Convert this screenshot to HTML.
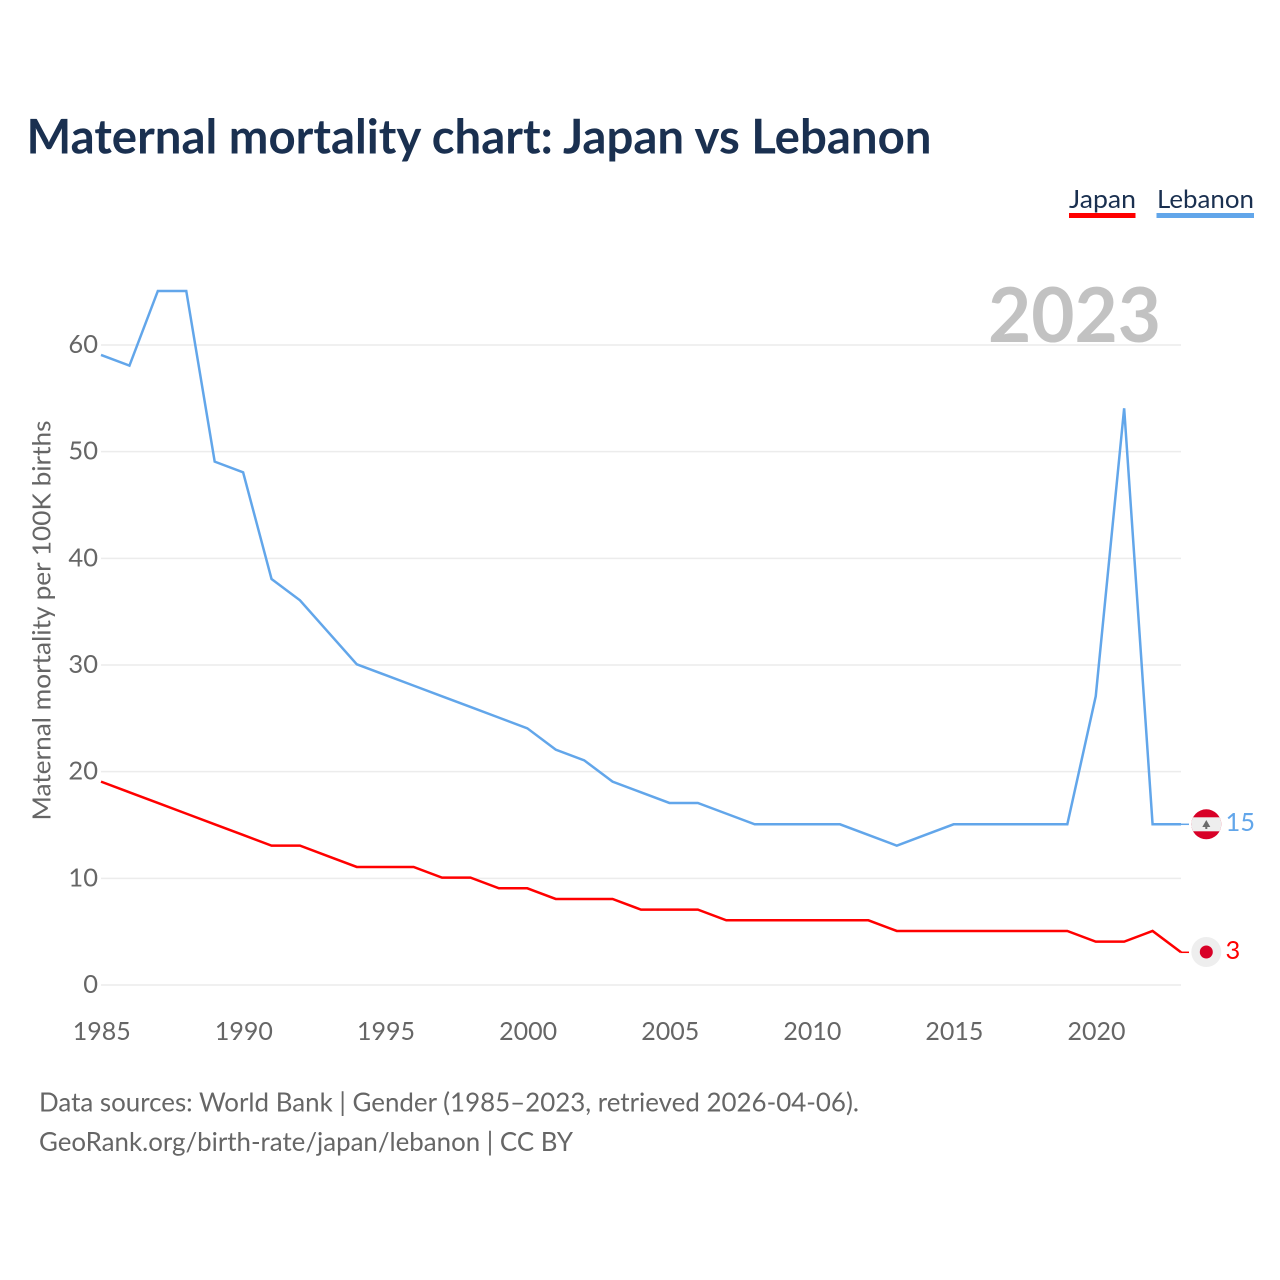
<!DOCTYPE html>
<html lang="en">
<head>
<meta charset="utf-8">
<title>Maternal mortality chart: Japan vs Lebanon</title>
<style>
html,body{margin:0;padding:0;background:#fff;width:1280px;height:1280px;overflow:hidden}
svg{display:block}
text{font-family:"Lato","Carlito","Liberation Sans",sans-serif}
</style>
</head>
<body>
<svg id="chart" xmlns="http://www.w3.org/2000/svg" width="1280" height="1280" viewBox="0 0 1280 1280">
  <rect width="1280" height="1280" fill="#fff"/>
  <text x="26.500" y="153.500" font-size="47.500" font-weight="700" fill="#1a3050" textLength="905" lengthAdjust="spacingAndGlyphs">Maternal mortality chart: Japan vs Lebanon</text>

  <g>
    <text x="1069" y="208" font-size="25.500" fill="#1a3050" textLength="67" lengthAdjust="spacingAndGlyphs">Japan</text>
    <rect x="1069" y="213" width="66.500" height="5" fill="#ff0000"/>
  </g>
  <g>
    <text x="1157" y="208" font-size="25.500" fill="#1a3050" textLength="97" lengthAdjust="spacingAndGlyphs">Lebanon</text>
    <rect x="1156.500" y="213" width="97.500" height="5" fill="#62a6ea"/>
  </g>

  <g id="grid"></g>
  <text x="1161" y="342" text-anchor="end" font-size="76" font-weight="700" fill="#c2c2c2" textLength="173" lengthAdjust="spacingAndGlyphs">2023</text>
  <g id="yticks"></g>
  <g id="xticks"></g>
  <text transform="translate(50.500 620.500) rotate(-90)" text-anchor="middle" font-size="25.500" fill="#666" textLength="400" lengthAdjust="spacingAndGlyphs">Maternal mortality per 100K births</text>
  <g id="series" transform="translate(0 -0.700)"></g>

  <g id="end-markers">
    <defs>
      <clipPath id="lb-clip"><circle cx="1206.300" cy="824.300" r="15"/></clipPath>
    </defs>
    <g clip-path="url(#lb-clip)">
      <rect x="1190" y="808" width="32" height="33" fill="#d80027"/>
      <rect x="1190" y="817.300" width="32" height="14" fill="#eeeeee"/>
      <path d="M1206.300 820l4 7h-3v2h-2v-2h-3z" fill="#6b6b6b"/>
    </g>
    <g>
      <circle cx="1206.300" cy="952" r="15" fill="#eeeeee"/>
      <circle cx="1206.300" cy="952" r="6.500" fill="#d80027"/>
    </g>
  </g>
  <g id="end-labels"></g>

  <text x="39" y="1111.500" font-size="26" fill="#666" textLength="820" lengthAdjust="spacingAndGlyphs">Data sources: World Bank | Gender (1985–2023, retrieved 2026-04-06).</text>
  <text x="39" y="1151" font-size="26" fill="#666" textLength="534" lengthAdjust="spacingAndGlyphs">GeoRank.org/birth-rate/japan/lebanon | CC BY</text>
</svg>
<script>
const years = [1985,1986,1987,1988,1989,1990,1991,1992,1993,1994,1995,1996,1997,1998,1999,2000,2001,2002,2003,2004,2005,2006,2007,2008,2009,2010,2011,2012,2013,2014,2015,2016,2017,2018,2019,2020,2021,2022,2023];
const japan = [19,18,17,16,15,14,13,13,12,11,11,11,10,10,9,9,8,8,8,7,7,7,6,6,6,6,6,6,5,5,5,5,5,5,5,4,4,5,3];
const lebanon = [59,58,65,65,49,48,38,36,33,30,29,28,27,26,25,24,22,21,19,18,17,17,16,15,15,15,15,14,13,14,15,15,15,15,15,27,54,15,15];
const yTicks = [0,10,20,30,40,50,60];
const xTicks = [1985,1990,1995,2000,2005,2010,2015,2020];

const NS = 'http://www.w3.org/2000/svg';
const xScale = function (v) { return 101 + (v - 1985) * (1080 / 38); };
const yScale = function (v) { return 985 - v * (640 / 60); };
const make = function (tag, parent) {
  const el = document.createElementNS(NS, tag);
  parent.appendChild(el);
  return el;
};

const grid = document.getElementById('grid');
const yGroup = document.getElementById('yticks');
yTicks.forEach(function (t) {
  const line = make('line', grid);
  
  
  line.setAttribute('x1', 101);
  line.setAttribute('x2', 1181);
  line.setAttribute('y1', yScale(t));
  line.setAttribute('y2', yScale(t));
  line.setAttribute('stroke', '#ececec');
  line.setAttribute('stroke-width', 1.5);
  const label = make('text', yGroup);
  
  
  label.setAttribute('x', 98);
  label.setAttribute('y', yScale(t) + 8);
  label.setAttribute('text-anchor', 'end');
  label.setAttribute('font-size', 25.5);
  label.setAttribute('fill', '#666');
  label.textContent = t;
});

const xGroup = document.getElementById('xticks');
xTicks.forEach(function (t) {
  const label = make('text', xGroup);
  
  
  label.setAttribute('x', xScale(t) + 0.800);
  label.setAttribute('y', 1040);
  label.setAttribute('text-anchor', 'middle');
  label.setAttribute('font-size', 25);
  label.setAttribute('fill', '#666');
  label.textContent = t;
});

const seriesGroup = document.getElementById('series');
const labelGroup = document.getElementById('end-labels');

const japanLine = make('polyline', seriesGroup);


japanLine.setAttribute('points', years.map(function (y, i) { return xScale(y) + ',' + yScale(japan[i]); }).join(' '));
japanLine.setAttribute('fill', 'none');
japanLine.setAttribute('stroke', '#ff0000');
japanLine.setAttribute('stroke-width', 2.5);

const lebanonLine = make('polyline', seriesGroup);


lebanonLine.setAttribute('points', years.map(function (y, i) { return xScale(y) + ',' + yScale(lebanon[i]); }).join(' '));
lebanonLine.setAttribute('fill', 'none');
lebanonLine.setAttribute('stroke', '#62a6ea');
lebanonLine.setAttribute('stroke-width', 2.5);

const japanEnd = japan[japan.length - 1];
const lebanonEnd = lebanon[lebanon.length - 1];

const japanConnector = make('line', seriesGroup);


japanConnector.setAttribute('x1', 1181);
japanConnector.setAttribute('x2', 1189);
japanConnector.setAttribute('y1', yScale(japanEnd));
japanConnector.setAttribute('y2', yScale(japanEnd));
japanConnector.setAttribute('stroke', '#ff0000');
japanConnector.setAttribute('stroke-width', 1.5);

const lebanonConnector = make('line', seriesGroup);


lebanonConnector.setAttribute('x1', 1181);
lebanonConnector.setAttribute('x2', 1189);
lebanonConnector.setAttribute('y1', yScale(lebanonEnd));
lebanonConnector.setAttribute('y2', yScale(lebanonEnd));
lebanonConnector.setAttribute('stroke', '#62a6ea');
lebanonConnector.setAttribute('stroke-width', 1.5);

const japanLabel = make('text', labelGroup);


japanLabel.setAttribute('x', 1225.5);
japanLabel.setAttribute('y', yScale(japanEnd) + 6);
japanLabel.setAttribute('font-size', 25.5);
japanLabel.setAttribute('fill', '#ff0000');
japanLabel.textContent = japanEnd;

const lebanonLabel = make('text', labelGroup);


lebanonLabel.setAttribute('x', 1225.5);
lebanonLabel.setAttribute('y', yScale(lebanonEnd) + 6);
lebanonLabel.setAttribute('font-size', 25.5);
lebanonLabel.setAttribute('fill', '#62a6ea');
lebanonLabel.textContent = lebanonEnd;
</script>
</body>
</html>
